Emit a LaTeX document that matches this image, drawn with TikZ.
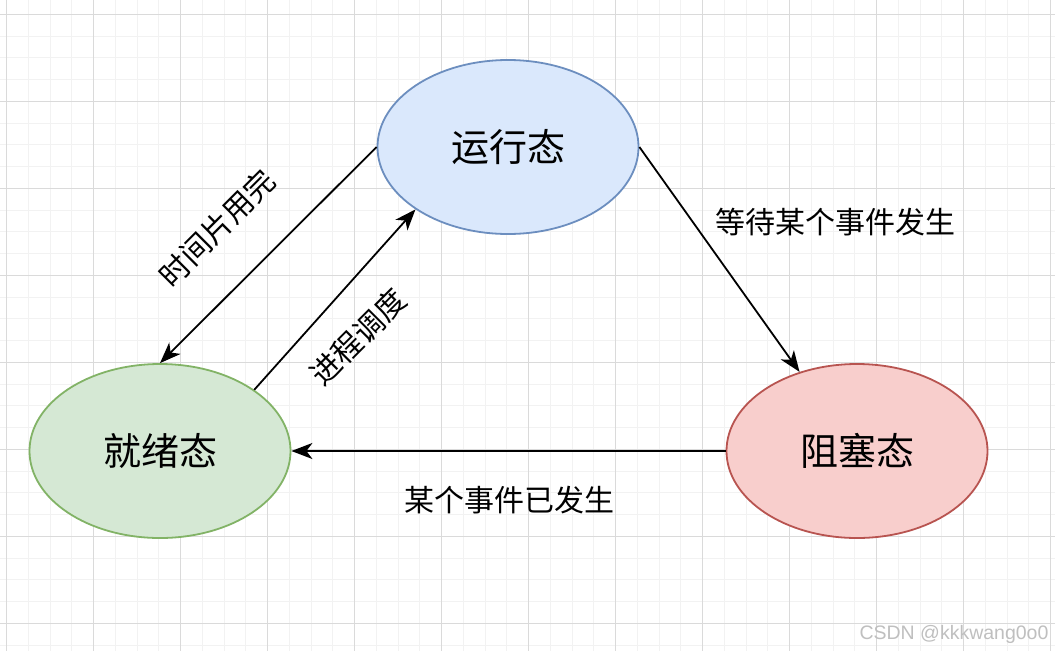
\documentclass[tikz,border=0pt]{standalone}
\usepackage{fontspec}
\setmainfont{Noto Sans CJK SC}
\newfontfamily\wmfont{Liberation Sans}
\usepackage{xcolor}
\definecolor{runfill}{HTML}{DAE8FC}
\definecolor{rundraw}{HTML}{6C8EBF}
\definecolor{readyfill}{HTML}{D5E8D4}
\definecolor{readydraw}{HTML}{82B366}
\definecolor{blockfill}{HTML}{F8CECC}
\definecolor{blockdraw}{HTML}{B85450}
\definecolor{gridminor}{HTML}{F2F2F2}
\definecolor{gridmajor}{HTML}{DADADA}
\usetikzlibrary{arrows.meta, shapes.geometric}

\begin{document}
\begin{tikzpicture}[x=1pt, y=-1pt,
    state/.style={draw, ellipse, line width=1.8pt, minimum width=261pt, minimum height=174pt, inner sep=0pt, font=\fontsize{38}{40}\selectfont},
    lbl/.style={font=\fontsize{30}{32}\selectfont},
    arr/.style={-{Stealth[length=21pt, width=16pt, inset=6pt]}, line width=1.8pt}]

    % Page and grid
    \useasboundingbox (0,0) rectangle (1055,651);
    \fill[white] (0,0) rectangle (1055,651);
    \foreach \k in {-1,...,48}
        \draw[gridminor, line width=1pt] ({6.7+21.75*\k},0) -- ({6.7+21.75*\k},651);
    \foreach \k in {-1,...,29}
        \draw[gridminor, line width=1pt] (0,{14.3+21.75*\k}) -- (1055,{14.3+21.75*\k});
    \foreach \k in {0,...,12}
        \draw[gridmajor, line width=1pt] ({6.7+87*\k},0) -- ({6.7+87*\k},651);
    \foreach \k in {0,...,7}
        \draw[gridmajor, line width=1pt] (0,{14.3+87*\k}) -- (1055,{14.3+87*\k});

    % States
    \node[state, draw=rundraw, fill=runfill] (run) at (508,147) {运行态};
    \node[state, draw=readydraw, fill=readyfill] (ready) at (160,451) {就绪态};
    \node[state, draw=blockdraw, fill=blockfill] (block) at (857,451) {阻塞态};

    % Transitions
    \draw[arr] (run.west) -- (ready.north);
    \draw[arr] (ready.33) -- (run.214);
    \draw[arr] (run.east) -- (block.126);
    \draw[arr] (block.west) -- (ready.east);

    % Labels
    \node[lbl, rotate=45] (timeout) at (217,228) {时间片用完};
    \node[lbl, rotate=45] (dispatch) at (358,337) {进程调度};
    \node[lbl] (wait) at (835,222) {等待某个事件发生};
    \node[lbl] (wake) at (509,500) {某个事件已发生};

    % Watermark
    \node[font=\wmfont\fontsize{19.5}{21}\selectfont, text=gray!50] (mark) at (954,634) {CSDN @kkkwang0o0};

\end{tikzpicture}
\end{document}
